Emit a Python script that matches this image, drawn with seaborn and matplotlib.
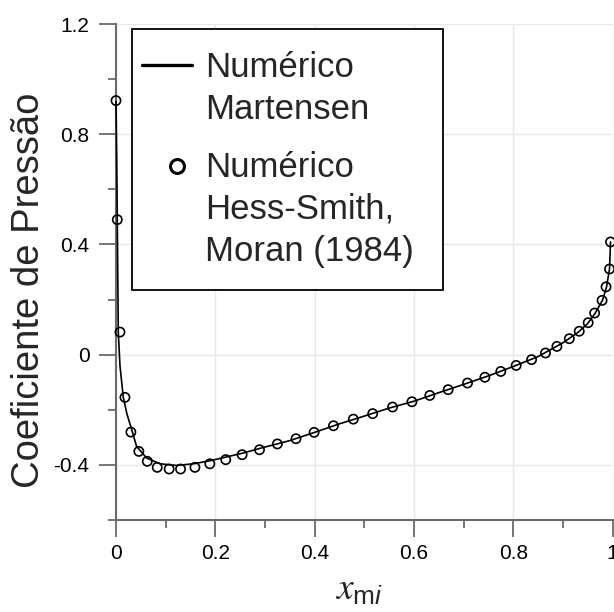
import numpy as np
import pandas as pd
import matplotlib
matplotlib.use("Agg")
import matplotlib.pyplot as plt
import seaborn as sns
from matplotlib.lines import Line2D
from matplotlib.legend_handler import HandlerLine2D
from matplotlib.ticker import MultipleLocator, FuncFormatter

# Martensen panel-method solution (continuous curve)
x_martensen = [0.000, 0.0015, 0.0026, 0.0035, 0.0046, 0.008, 0.0147, 0.022, 0.0296,
               0.0415, 0.0617, 0.0886, 0.122, 0.156, 0.189, 0.223, 0.256, 0.290,
               0.350, 0.400, 0.450, 0.500, 0.550, 0.600, 0.650, 0.700, 0.750,
               0.800, 0.850, 0.900, 0.930, 0.950, 0.965, 0.980, 0.988, 0.994, 0.996]
cp_martensen = [0.920, 0.700, 0.490, 0.300, 0.082, -0.040, -0.155, -0.215, -0.260,
                -0.333, -0.375, -0.396, -0.402, -0.396, -0.385, -0.371, -0.357, -0.340,
                -0.312, -0.282, -0.251, -0.223, -0.194, -0.169, -0.138, -0.108, -0.077,
                -0.043, -0.007, 0.043, 0.080, 0.113, 0.150, 0.198, 0.246, 0.311, 0.409]

# Hess-Smith solution, Moran (1984)
x_hess_smith = [0.000, 0.0026, 0.008, 0.018, 0.030, 0.046, 0.063, 0.083, 0.107, 0.130,
                0.159, 0.189, 0.221, 0.254, 0.289, 0.325, 0.3625, 0.399, 0.438, 0.478,
                0.517, 0.557, 0.596, 0.632, 0.669, 0.708, 0.743, 0.775, 0.806, 0.837,
                0.865, 0.888, 0.913, 0.933, 0.951, 0.964, 0.979, 0.987, 0.994, 0.996]
cp_hess_smith = [0.922, 0.490, 0.082, -0.155, -0.281, -0.351, -0.387, -0.409, -0.415, -0.415,
                 -0.409, -0.396, -0.381, -0.363, -0.345, -0.324, -0.305, -0.282, -0.258, -0.234,
                 -0.214, -0.190, -0.171, -0.148, -0.127, -0.103, -0.082, -0.061, -0.039, -0.018,
                 0.006, 0.030, 0.058, 0.085, 0.116, 0.151, 0.197, 0.246, 0.311, 0.409]

label_martensen = "Numérico\nMartensen"
label_hess_smith = "Numérico\nHess-Smith,\nMoran (1984)"
x_label = r"$x_{\mathrm{m}\mathsf{i}}$"
y_label = "Coeficiente de Pressão"

sns.set_theme(style="white")
plt.rcParams["font.family"] = ["Liberation Sans", "DejaVu Sans"]
plt.rcParams["mathtext.fontset"] = "custom"
plt.rcParams["mathtext.it"] = "STIXGeneral:italic"
plt.rcParams["mathtext.rm"] = "Liberation Sans"
plt.rcParams["mathtext.sf"] = "Liberation Sans:italic"

df_m = pd.DataFrame({"x": x_martensen, "cp": cp_martensen})
df_h = pd.DataFrame({"x": x_hess_smith, "cp": cp_hess_smith})

fig = plt.figure(figsize=(6.14, 6.12), dpi=100)
ax = fig.add_axes([116 / 614, 92 / 612, 496.5 / 614, 496 / 612])

sns.lineplot(data=df_m, x="x", y="cp", ax=ax, color="black", linewidth=1.2,
             sort=False, zorder=3, clip_on=False)
sns.scatterplot(data=df_h, x="x", y="cp", ax=ax, marker="o", s=44,
                facecolors="none", edgecolor="black", linewidth=1.2,
                zorder=4, clip_on=False)

ax.set_xlim(0, 1)
ax.set_ylim(-0.6, 1.2)

axis_grey = "#6a6a6a"
for side in ["top", "right"]:
    ax.spines[side].set_visible(False)
for side in ["left", "bottom"]:
    ax.spines[side].set_color(axis_grey)
    ax.spines[side].set_linewidth(1.5)

ax.xaxis.set_major_locator(MultipleLocator(0.2))
ax.xaxis.set_minor_locator(MultipleLocator(0.1))
ax.yaxis.set_major_locator(MultipleLocator(0.4))
ax.yaxis.set_minor_locator(MultipleLocator(0.2))

def fmt(v, pos):
    v = round(v, 2)
    if abs(v) < 1e-9:
        return "0"
    return f"{v:g}"

ax.xaxis.set_major_formatter(FuncFormatter(fmt))
ax.yaxis.set_major_formatter(FuncFormatter(fmt))

ax.tick_params(axis="both", which="major", direction="out", length=12, width=1.3,
               color=axis_grey, labelsize=15, labelcolor="black",
               bottom=True, left=True)
ax.tick_params(axis="both", which="minor", direction="out", length=6, width=1.3,
               color=axis_grey, bottom=True, left=True)
ax.tick_params(axis="x", which="major", pad=5)
ax.tick_params(axis="y", which="major", pad=7)

ax.grid(True, which="major", color="#e8e8e8", linewidth=1.0, zorder=0)
ax.set_axisbelow(True)

ax.set_ylabel(y_label, fontsize=27.5, va="center")
ax.yaxis.set_label_coords(-0.176, 0.464)
ax.set_xlabel(x_label, fontsize=27, va="top")
ax.xaxis.set_label_coords(0.49, -0.105)


class ShiftedHandler(HandlerLine2D):
    """Line2D legend handler that places the handle next to the first text line."""

    def __init__(self, dx=0.0, dy=0.0, **kw):
        super().__init__(**kw)
        self.dx = dx
        self.dy = dy

    def create_artists(self, legend, orig_handle, xdescent, ydescent, width, height,
                       fontsize, trans):
        arts = super().create_artists(legend, orig_handle, xdescent, ydescent,
                                      width, height, fontsize, trans)
        for a in arts:
            a.set_xdata(np.asarray(a.get_xdata(), dtype=float) + self.dx * fontsize)
            a.set_ydata(np.asarray(a.get_ydata(), dtype=float) + self.dy * fontsize)
        return arts


h_line = Line2D([], [], color="black", linewidth=2.4)
h_circ = Line2D([], [], color="black", linestyle="none", marker="o", markersize=10,
                markerfacecolor="none", markeredgecolor="black", markeredgewidth=2.2)

leg = ax.legend([h_line, h_circ], [label_martensen, label_hess_smith],
                handler_map={h_line: ShiftedHandler(dx=-0.357, dy=0.71),
                             h_circ: ShiftedHandler(dx=-0.06, dy=1.26, numpoints=1)},
                loc="upper left", bbox_to_anchor=(0.032, 0.990, 0.626, 0.0),
                mode="expand", borderaxespad=0.0, fontsize=25, frameon=True,
                fancybox=False, shadow=False, framealpha=1.0, edgecolor="black",
                handlelength=1.44, handletextpad=0.02, borderpad=0.645,
                labelspacing=0.7)
for t in leg.get_texts():
    t.set_linespacing(1.35)
leg.get_frame().set_linewidth(1.3)
leg.set_zorder(10)

fig.savefig("out.png", dpi=100)
